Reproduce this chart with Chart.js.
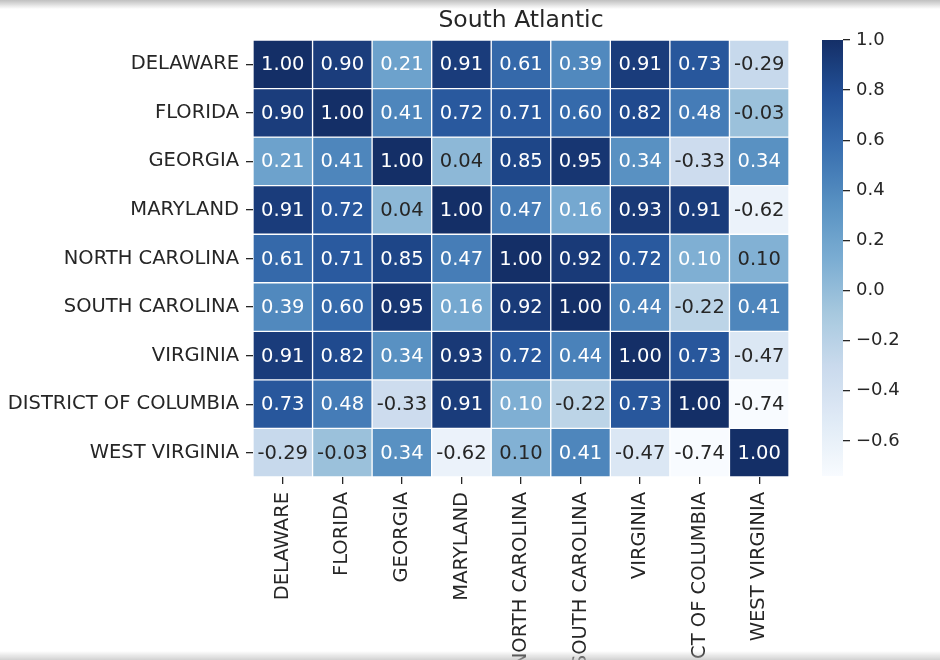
<!DOCTYPE html>
<html>
<head>
<meta charset="utf-8">
<script src="https://cdn.jsdelivr.net/npm/chart.js@4.4.1/dist/chart.umd.min.js"></script>
<style>
html,body{margin:0;padding:0;background:#fff;}
#wrap{position:relative;width:940px;height:660px;overflow:hidden;background:#fff;}
#main{position:absolute;left:0;top:0;}
#cbar{position:absolute;left:800px;top:0;}
.shade-top{position:absolute;left:0;top:0;width:940px;height:9px;background:linear-gradient(rgba(170,170,170,0.75),rgba(255,255,255,0));}
.shade-bot{position:absolute;left:0;top:651px;width:940px;height:9px;background:linear-gradient(rgba(255,255,255,0),rgba(190,190,190,0.7));}
</style>
</head>
<body>
<div id="wrap">
<canvas id="main" width="940" height="660"></canvas>
<canvas id="cbar" width="140" height="660"></canvas>
<div class="shade-top"></div>
<div class="shade-bot"></div>
</div>
<script>
// ---- data ----
const chartTitle = 'South Atlantic';
const states = ['DELAWARE','FLORIDA','GEORGIA','MARYLAND','NORTH CAROLINA','SOUTH CAROLINA','VIRGINIA','DISTRICT OF COLUMBIA','WEST VIRGINIA'];
const rowDelaware      = [ 1.00,  0.90,  0.21,  0.91,  0.61,  0.39,  0.91,  0.73, -0.29];
const rowFlorida       = [ 0.90,  1.00,  0.41,  0.72,  0.71,  0.60,  0.82,  0.48, -0.03];
const rowGeorgia       = [ 0.21,  0.41,  1.00,  0.04,  0.85,  0.95,  0.34, -0.33,  0.34];
const rowMaryland      = [ 0.91,  0.72,  0.04,  1.00,  0.47,  0.16,  0.93,  0.91, -0.62];
const rowNorthCarolina = [ 0.61,  0.71,  0.85,  0.47,  1.00,  0.92,  0.72,  0.104, 0.0957];
const rowSouthCarolina = [ 0.39,  0.60,  0.95,  0.16,  0.92,  1.00,  0.44, -0.22,  0.41];
const rowVirginia      = [ 0.91,  0.82,  0.34,  0.93,  0.72,  0.44,  1.00,  0.73, -0.47];
const rowDistrict      = [ 0.73,  0.48, -0.33,  0.91,  0.104,-0.22,  0.73,  1.00, -0.74];
const rowWestVirginia  = [-0.29, -0.03,  0.34, -0.62,  0.0957, 0.41, -0.47, -0.74,  1.00];
const colorbarTicks = [1.0, 0.8, 0.6, 0.4, 0.2, 0.0, -0.2, -0.4, -0.6];

const matrix = [rowDelaware,rowFlorida,rowGeorgia,rowMaryland,rowNorthCarolina,rowSouthCarolina,rowVirginia,rowDistrict,rowWestVirginia];
const allVals = matrix.flat();
const vmin = Math.min(...allVals);
const vmax = Math.max(...allVals);

// ---- matplotlib "Blues" colormap (256-entry LUT) ----
const BLUES = [
  [0.96862745,0.98431373,1.0],[0.87058824,0.92156863,0.96862745],[0.77647059,0.85882353,0.9372549],
  [0.61960784,0.79215686,0.88235294],[0.41960784,0.68235294,0.83921569],[0.25882353,0.57254902,0.77647059],
  [0.12941176,0.44313725,0.70980392],[0.03137255,0.31764706,0.61176471],[0.03137255,0.18823529,0.41960784]
];
function lutColor(i){
  const s = i/255*8; const k = Math.min(7, Math.floor(s)); const f = s-k;
  return BLUES[k].map((c,j)=>c+(BLUES[k+1][j]-c)*f);
}
function cmap(v){
  const t = (v - vmin)/(vmax - vmin);
  let i = Math.floor(t*256); if (i>255) i=255; if (i<0) i=0;
  return lutColor(i);
}
// the reference screenshot shows colours through a wide-gamut display profile
function lin(c){ return c <= 0.04045 ? c/12.92 : Math.pow((c+0.055)/1.055, 2.4); }
function enc(c){ c = Math.max(0, Math.min(1, c)); return c <= 0.0031308 ? c*12.92 : 1.055*Math.pow(c, 1/2.4) - 0.055; }
function display(rgb){
  const [r,g,b] = rgb.map(lin);
  return [enc(0.8224621*r + 0.177538*g), enc(0.0331941*r + 0.9668058*g), enc(0.0170827*r + 0.0723974*g + 0.9105199*b)];
}
function toCss(rgb){ return 'rgb(' + display(rgb).map(c=>Math.round(c*255)).join(',') + ')'; }
function luminance(rgb){
  const l = rgb.map(c => c <= 0.03928 ? c/12.92 : Math.pow((c+0.055)/1.055, 2.4));
  return 0.2126*l[0] + 0.7152*l[1] + 0.0722*l[2];
}
function textColor(v){ return luminance(cmap(v)) > 0.408 ? '#262626' : '#ffffff'; }

const FONT = 'DejaVu Sans';
const TXT = '#262626';

// ---- plugins ----
const cellText = {
  id: 'cellText',
  afterDatasetsDraw(chart){
    const ctx = chart.ctx;
    ctx.save();
    ctx.font = '19.5px "' + FONT + '"';
    ctx.textAlign = 'center';
    ctx.textBaseline = 'middle';
    chart.data.datasets.forEach((ds, di) => {
      const meta = chart.getDatasetMeta(di);
      meta.data.forEach((el, i) => {
        const v = ds.values[i];
        const p = el.getProps(['x','y','base'], true);
        ctx.fillStyle = textColor(v);
        ctx.fillText(v.toFixed(2), p.x, (p.y + p.base)/2 + 1);
      });
    });
    ctx.restore();
  }
};
const titleDraw = {
  id: 'titleDraw',
  afterDraw(chart){
    const ctx = chart.ctx, ca = chart.chartArea;
    ctx.save();
    ctx.font = '23.5px "' + FONT + '"';
    ctx.fillStyle = TXT;
    ctx.textAlign = 'center';
    ctx.textBaseline = 'alphabetic';
    ctx.fillText(chartTitle, (ca.left + ca.right)/2, 27);
    ctx.restore();
  }
};

// ---- main heatmap ----
const datasets = matrix.map((row, r) => ({
  label: states[r],
  values: row,
  data: row.map(() => [r - 0.5, r + 0.5]),
  backgroundColor: row.map(v => toCss(cmap(v))),
  borderColor: '#ffffff',
  borderWidth: 1,
  borderSkipped: false,
  barPercentage: 1,
  categoryPercentage: 1,
  grouped: false
}));

new Chart(document.getElementById('main'), {
  type: 'bar',
  data: { labels: states, datasets },
  options: {
    responsive: false,
    animation: false,
    layout: { padding: { top: 40, left: 0, right: 151, bottom: 0 } },
    plugins: { legend: { display: false }, tooltip: { enabled: false }, title: { display: false } },
    scales: {
      x: {
        type: 'category',
        position: 'bottom',
        offset: true,
        grid: { display: true, drawOnChartArea: false, drawTicks: true, tickLength: 7, color: TXT, lineWidth: 1.3, offset: false },
        border: { display: false },
        ticks: { autoSkip: false, minRotation: 90, maxRotation: 90, padding: 8, color: TXT, font: { family: FONT, size: 19.5 } },
        afterFit(s){ s.height = 183; }
      },
      y: {
        type: 'linear',
        min: -0.5, max: 8.5,
        reverse: true,
        bounds: 'data',
        afterBuildTicks(s){ s.ticks = states.map((_, i) => ({ value: i })); },
        grid: { display: true, drawOnChartArea: false, drawTicks: true, tickLength: 7, color: TXT, lineWidth: 1.3 },
        border: { display: false },
        ticks: { autoSkip: false, padding: 7, color: TXT, font: { family: FONT, size: 19.5 }, callback: (v) => states[v] },
        afterFit(s){ s.width = 253; }
      }
    }
  },
  plugins: [cellText, titleDraw]
});

// ---- colorbar ----
function gradientFill(context){
  const chart = context.chart;
  const ca = chart.chartArea;
  if (!ca) return toCss(cmap(vmax));
  const ys = chart.scales.y;
  const g = chart.ctx.createLinearGradient(0, ys.getPixelForValue(vmin), 0, ys.getPixelForValue(vmax));
  for (let i = 0; i <= 32; i++) g.addColorStop(i/32, toCss(lutColor(Math.round(i/32*255))));
  return g;
}
new Chart(document.getElementById('cbar'), {
  type: 'bar',
  data: { labels: ['cb'], datasets: [{ data: [[vmin, vmax]], backgroundColor: gradientFill, borderWidth: 0, barPercentage: 1, categoryPercentage: 1 }] },
  options: {
    responsive: false,
    animation: false,
    layout: { padding: { left: 22, top: 40, bottom: 184, right: 0 } },
    plugins: { legend: { display: false }, tooltip: { enabled: false } },
    scales: {
      x: { display: false },
      y: {
        position: 'right',
        min: vmin, max: vmax,
        bounds: 'data',
        afterBuildTicks(s){ s.ticks = colorbarTicks.map(v => ({ value: v })); },
        grid: { display: true, drawOnChartArea: false, drawTicks: true, tickLength: 7, color: TXT, lineWidth: 1.3 },
        border: { display: false },
        ticks: { padding: 6, color: TXT, font: { family: FONT, size: 18 },
                 callback: (v) => v.toFixed(1).replace('-', '\u2212') },
        afterFit(s){ s.width = 97; }
      }
    }
  }
});
</script>
</body>
</html>
